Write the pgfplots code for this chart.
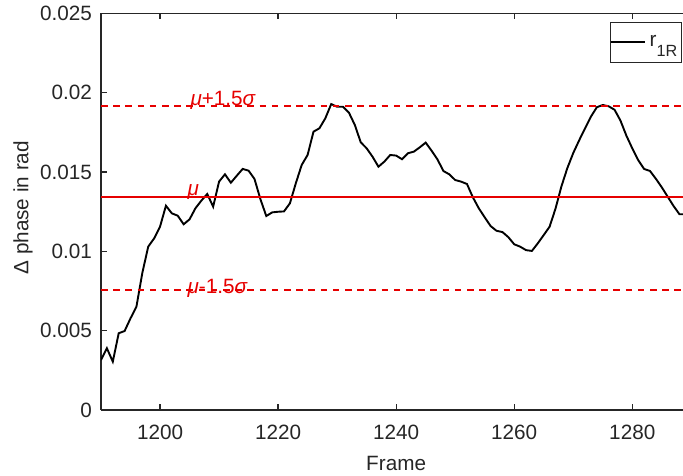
\documentclass[border=0pt]{standalone}
\usepackage{fontspec}
\setmainfont{Liberation Sans}
\usepackage{pgfplots}
\pgfplotsset{compat=1.18}
\definecolor{mgray}{RGB}{38,38,38}
\definecolor{mred}{RGB}{230,0,0}
\begin{document}
\begin{tikzpicture}
\useasboundingbox (-50.5pt,-32.5pt) rectangle (291pt,205pt);
\begin{axis}[
  at={(0,0)}, anchor=south west,
  scale only axis,
  width=291pt, height=198.25pt,
  xmin=1190, xmax=1288.6,
  ymin=0, ymax=0.025,
  scaled y ticks=false, scaled x ticks=false,
  axis x line*=box, axis y line*=left,
  axis line style={mgray, line width=0.6pt},
  every tick/.style={mgray, line width=0.6pt},
  tick align=inside,
  major tick length=2.8pt,
  xtick={1200,1220,1240,1260,1280},
  xticklabels={1200,1220,1240,1260,1280},
  ytick={0,0.005,0.01,0.015,0.02,0.025},
  yticklabels={0,0.005,0.01,0.015,0.02,0.025},
  tick label style={font=\fontsize{10.35}{12}\selectfont, text=mgray},
  xticklabel style={yshift=-4pt},
  yticklabel style={xshift=-1pt},
  label style={font=\fontsize{10.35}{12}\selectfont, text=mgray},
  xlabel={Frame},
  xlabel style={at={(axis cs:1240,0)}, anchor=center, yshift=-26.5pt},
  ylabel={Δ phase in rad},
  ylabel style={at={(axis description cs:-0.134,0.51)}, anchor=center},
  clip=true,
  legend style={at={(axis description cs:0.9978,0.9793)}, anchor=north east,
    draw=mgray, line width=0.5pt, font=\fontsize{10.35}{12}\selectfont, text=mgray,
    inner xsep=0pt, inner ysep=4.5pt, row sep=0pt},
  legend cell align=left,
  legend image code/.code={\draw[#1] (0pt,0pt) -- (16.7pt,0pt);},
]
\addplot[black, line width=0.95pt] coordinates {
(1190,0.00315) (1191,0.00389) (1192,0.00305) (1193,0.00484) (1194,0.00498)
(1195,0.00578) (1196,0.00651) (1197,0.00864) (1198,0.01030) (1199,0.01082)
(1200,0.01156) (1201,0.01288) (1202,0.01240) (1203,0.01225) (1204,0.01171)
(1205,0.01202) (1206,0.01272) (1207,0.01320) (1208,0.01362) (1209,0.01282)
(1210,0.01440) (1211,0.01486) (1212,0.01433) (1213,0.01477) (1214,0.01520)
(1215,0.01509) (1216,0.01457) (1217,0.01330) (1218,0.01223) (1219,0.01246)
(1220,0.01250) (1221,0.01252) (1222,0.01303) (1223,0.01429) (1224,0.01545)
(1225,0.01608) (1226,0.01755) (1227,0.01776) (1228,0.01839) (1229,0.01929)
(1230,0.01912) (1231,0.01912) (1232,0.01875) (1233,0.01797) (1234,0.01688)
(1235,0.01650) (1236,0.01597) (1237,0.01534) (1238,0.01566) (1239,0.01608)
(1240,0.01604) (1241,0.01581) (1242,0.01619) (1243,0.01629) (1244,0.01656)
(1245,0.01686) (1246,0.01635) (1247,0.01580) (1248,0.01507) (1249,0.01486)
(1250,0.01450) (1251,0.01440) (1252,0.01425) (1253,0.01341) (1254,0.01272)
(1255,0.01215) (1256,0.01160) (1257,0.01130) (1258,0.01122) (1259,0.01090)
(1260,0.01045) (1261,0.01030) (1262,0.01008) (1263,0.01003) (1264,0.01051)
(1265,0.01103) (1266,0.01156) (1267,0.01270) (1268,0.01410) (1269,0.01525)
(1270,0.01620) (1271,0.01700) (1272,0.01776) (1273,0.01850) (1274,0.01909)
(1275,0.01923) (1276,0.01915) (1277,0.01893) (1278,0.01825) (1279,0.01730)
(1280,0.01650) (1281,0.01576) (1282,0.01520) (1283,0.01507) (1284,0.01458)
(1285,0.01404) (1286,0.01345) (1287,0.01286) (1288,0.01234) (1289,0.01234)
};
\addlegendentry{r\raisebox{-5pt}{\fontsize{8.1}{9}\selectfont 1R}}
\addplot[mred, line width=0.85pt, forget plot] coordinates {(1190,0.01345) (1290,0.01345)};
\addplot[mred, line width=0.85pt, dash pattern=on 3.3pt off 2.8pt, forget plot] coordinates {(1190,0.01915) (1290,0.01915)};
\addplot[mred, line width=0.85pt, dash pattern=on 3.3pt off 2.8pt, forget plot] coordinates {(1190,0.00755) (1290,0.00755)};
\node[anchor=base west, inner sep=0pt, text=mred, font=\fontsize{10.35}{12}\selectfont] at (axis cs:1205.1,0.01923) {{\itshape μ}+1.5{\itshape σ}};
\node[anchor=base west, inner sep=0pt, text=mred, font=\fontsize{10.35}{12}\selectfont] at (axis cs:1204.6,0.01350) {{\itshape μ}};
\node[anchor=base west, inner sep=0pt, text=mred, font=\fontsize{10.35}{12}\selectfont] at (axis cs:1204.6,0.00735) {{\itshape μ}-1.5{\itshape σ}};
\end{axis}
\end{tikzpicture}
\end{document}
